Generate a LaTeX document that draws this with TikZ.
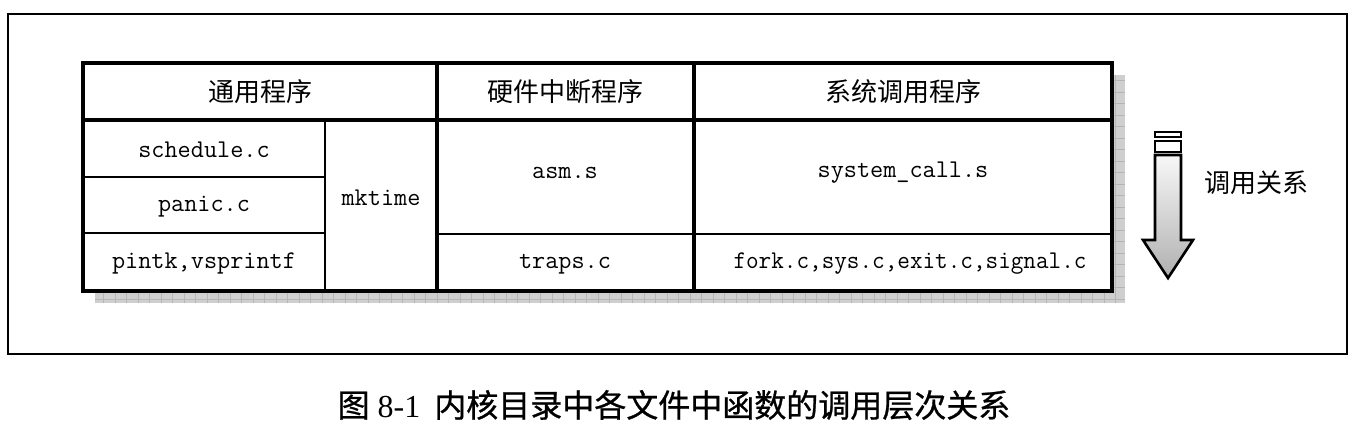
\documentclass[tikz,border=0pt]{standalone}
\usepackage{fontspec}
\usepackage{graphicx}
\newfontfamily\cjk{Noto Sans CJK SC}
\newfontfamily\cjkm[FakeBold=0.8]{Noto Sans CJK SC}
\newfontfamily\serf{Liberation Serif}
\newcommand{\lt}[1]{{\ttfamily\fontsize{25.5}{28}\selectfont #1}}
\tikzset{
  thick line/.style={line width=3.2pt},
  thin line/.style={line width=2pt},
  cn/.style={inner sep=0pt, font=\cjk\fontsize{26}{28}\selectfont},
  ln/.style={inner sep=0pt},
}
\begin{document}
\begin{tikzpicture}[x=1pt,y=-1pt]
\useasboundingbox (0,0) rectangle (1358,424);
% outer frame
\draw[line width=2.8pt] (8,14) rectangle (1347,354);
% shadow
\fill[gray!38] (95,75) rectangle (1125,303);
\begin{scope}
\clip (95,75) rectangle (1125,303);
\draw[gray!58, line width=0.6pt] (95,75) grid[step=11.5pt] (1125,303);
\end{scope}
% table
\fill[white] (83,63) rectangle (1112,291);
\draw[thin line] (83,177) -- (325,177);
\draw[thin line] (83,233) -- (325,233);
\draw[thin line] (325,120) -- (325,291);
\draw[thin line] (437,234) -- (1112,234);
\draw[thick line] (83,120) -- (1112,120);
\draw[thick line] (437,63) -- (437,291);
\draw[thick line] (694,63) -- (694,291);
\draw[thick line] (83,63) rectangle (1112,291);
% headers
\node[cn] (h1) at (260,92) {通用程序};
\node[cn] (h2) at (565,92) {硬件中断程序};
\node[cn] (h3) at (903,92) {系统调用程序};
% cells
\node[ln] (sch) at (204,150) {\lt{schedule.c}};
\node[ln] (pan) at (204,207) {\lt{panic.c}};
\node[ln] (pri) at (204,263) {\lt{pintk,vsprintf}};
\node[ln] (mkt) at (381,198) {\lt{mktime}};
\node[ln] (asm) at (565,173) {\lt{asm.s}};
\node[ln] (sys) at (903,173) {\lt{system\_call.s}};
\node[ln] (trp) at (565,264) {\lt{traps.c}};
\node[ln] (frk) at (910,264) {\scalebox{0.96}[1]{\lt{fork.c,sys.c,exit.c,signal.c}}};
% arrow
\draw[line width=2.6pt, fill=white] (1155,132) rectangle (1181,137);
\draw[line width=2.6pt, fill=white] (1155,141) rectangle (1181,152);
\draw[line width=2.6pt, top color=gray!6, bottom color=gray!62, line join=miter]
  (1155,155) -- (1181,155) -- (1181,240) -- (1193,240) -- (1168,278)
  -- (1143,240) -- (1155,240) -- cycle;
\node[cn] (rel) at (1256,183) {调用关系};
% caption
\node[inner sep=0pt, font=\cjkm\fontsize{32}{34}\selectfont] (cap) at (674,405)
  {图\hspace{8pt}{\serf\fontsize{32}{34}\selectfont 8-1}\hspace{14pt}内核目录中各文件中函数的调用层次关系};
\end{tikzpicture}
\end{document}
